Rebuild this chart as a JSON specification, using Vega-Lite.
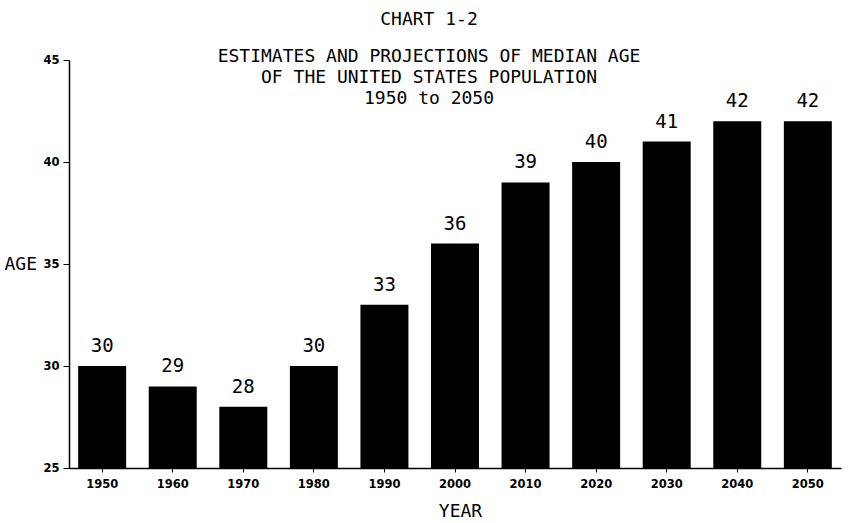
{
  "$schema": "https://vega.github.io/schema/vega-lite/v6.json",
  "width": 772,
  "height": 408,
  "autosize": {"type": "none"},
  "padding": {"left": 69, "top": 60, "right": 7, "bottom": 55},
  "background": "white",
  "title": {
    "text": "CHART 1-2",
    "subtitle": ["ESTIMATES AND PROJECTIONS OF MEDIAN AGE", "OF THE UNITED STATES POPULATION", "1950 to 2050"],
    "anchor": "middle",
    "frame": "group",
    "dx": -26,
    "offset": -54,
    "font": "DejaVu Sans Mono",
    "fontSize": 18,
    "fontWeight": "normal",
    "color": "black",
    "subtitleFont": "DejaVu Sans Mono",
    "subtitleFontSize": 18,
    "subtitleColor": "black",
    "subtitleLineHeight": 21,
    "subtitlePadding": 19
  },
  "data": {
    "values": [
      {"year": "1950", "age": 30},
      {"year": "1960", "age": 29},
      {"year": "1970", "age": 28},
      {"year": "1980", "age": 30},
      {"year": "1990", "age": 33},
      {"year": "2000", "age": 36},
      {"year": "2010", "age": 39},
      {"year": "2020", "age": 40},
      {"year": "2030", "age": 41},
      {"year": "2040", "age": 42},
      {"year": "2050", "age": 42}
    ]
  },
  "config": {"view": {"stroke": null}},
  "encoding": {
    "x": {
      "field": "year",
      "type": "ordinal",
      "scale": {"paddingInner": 0.32, "paddingOuter": 0.13},
      "axis": {
        "labelAngle": 0,
        "title": "YEAR",
        "domainColor": "black",
        "domainWidth": 1.5,
        "tickColor": "black",
        "tickSize": 4,
        "labelPadding": 6,
        "labelFont": "DejaVu Sans",
        "labelFontSize": 11.5,
        "labelFontWeight": "bold",
        "labelColor": "black",
        "titleFont": "DejaVu Sans Mono",
        "titleFontSize": 18,
        "titleFontWeight": "normal",
        "titleColor": "black",
        "titleX": 391,
        "titleY": 43,
        "titleBaseline": "middle"
      }
    },
    "y": {
      "field": "age",
      "type": "quantitative",
      "scale": {"domain": [25, 45], "nice": false, "zero": false},
      "axis": {
        "values": [25, 30, 35, 40, 45],
        "grid": false,
        "domainColor": "black",
        "domainWidth": 1.5,
        "tickColor": "black",
        "tickSize": 6,
        "labelPadding": 4,
        "labelFont": "DejaVu Sans",
        "labelFontSize": 11.5,
        "labelFontWeight": "bold",
        "labelColor": "black",
        "title": "AGE",
        "titleAngle": 0,
        "titleAlign": "left",
        "titleBaseline": "middle",
        "titleX": -65,
        "titleY": 204,
        "titleFont": "DejaVu Sans Mono",
        "titleFontSize": 18,
        "titleFontWeight": "normal",
        "titleColor": "black"
      }
    }
  },
  "layer": [
    {"mark": {"type": "bar", "color": "black", "clip": true}},
    {
      "mark": {"type": "text", "baseline": "bottom", "dy": -10, "font": "DejaVu Sans Mono", "fontSize": 19, "color": "black"},
      "encoding": {"text": {"field": "age", "type": "quantitative"}}
    }
  ]
}
